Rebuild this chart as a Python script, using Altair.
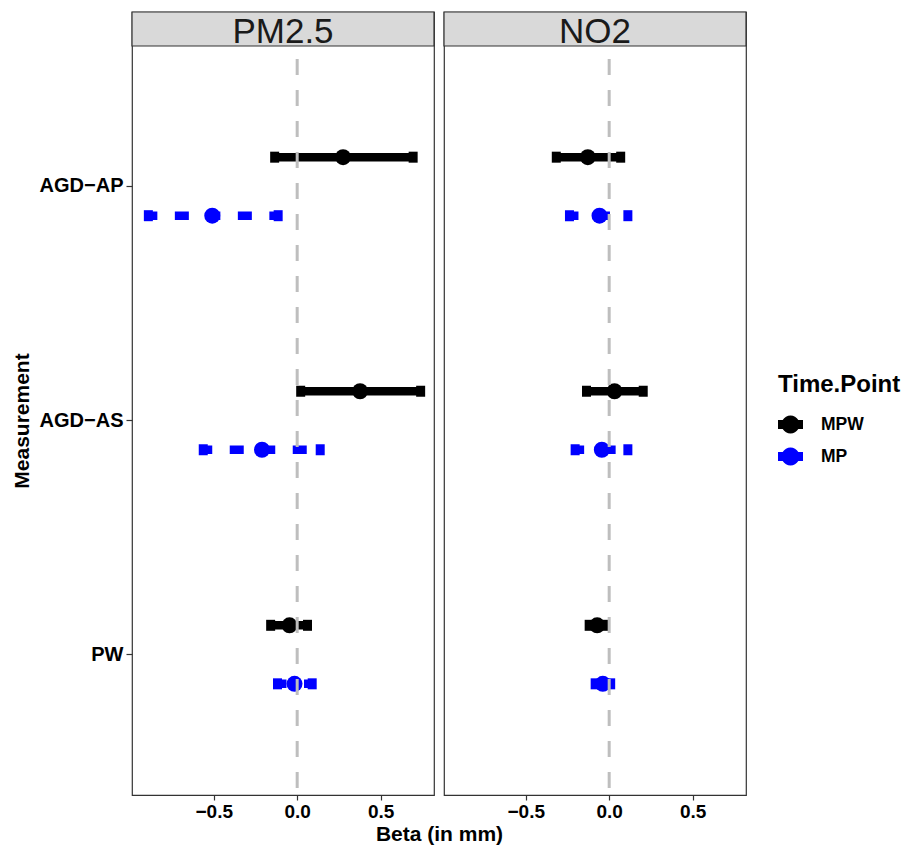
import math
import altair as alt
import pandas as pd

# ---- data ----
pollutant = ["PM2.5"] * 6 + ["NO2"] * 6
measurement = ["AGD-AP", "AGD-AP", "AGD-AS", "AGD-AS", "PW", "PW"] * 2
time_point = ["MPW", "MP"] * 6
beta = [0.275, -0.509, 0.377, -0.211, -0.046, -0.016,
        -0.128, -0.058, 0.032, -0.044, -0.072, -0.038]
lower = [-0.135, -0.892, 0.021, -0.563, -0.159, -0.118,
         -0.317, -0.238, -0.136, -0.204, -0.120, -0.084]
upper = [0.695, -0.114, 0.740, 0.138, 0.062, 0.090,
         0.069, 0.112, 0.204, 0.112, -0.033, 0.009]

panels = ["PM2.5", "NO2"]
meas_domain = ["AGD-AP", "AGD-AS", "PW"]
tp_domain = ["MPW", "MP"]
tp_colors = ["#000000", "#0000FF"]
x_ticks = [-0.5, 0.0, 0.5]
x_domain = [-0.99, 0.82]
ref_line = [0.0]

df = pd.DataFrame(dict(Pollutant=pollutant, Measurement=measurement,
                       TimePoint=time_point, Beta=beta, Lower=lower, Upper=upper))
ref_df = pd.DataFrame({"ref": ref_line})

FONT = "Liberation Sans"
PW_, PH, SH = 302, 749, 34
TOT_H = PH + SH

# legend glyph: a dot on a short thick bar (polygon approximation of the circle)
circ = " ".join(
    ("M" if i == 0 else "L") + f"{0.72 * math.cos(2 * math.pi * i / 24):.3f},"
    f"{0.72 * math.sin(2 * math.pi * i / 24):.3f}" for i in range(24)
) + " Z"
sym_path = "M-1,-0.36 L1,-0.36 L1,0.36 L-1,0.36 Z " + circ

legend = alt.Legend(
    title="Time.Point", orient="none", legendX=646, legendY=361, padding=0,
    symbolType=sym_path, symbolSize=625, symbolStrokeWidth=0, symbolOpacity=1,
    titleFont=FONT, titleFontSize=24, titleFontWeight="bold", titleColor="black",
    labelFont=FONT, labelFontSize=17.5, labelFontWeight="bold", labelColor="black",
    labelOffset=18, rowPadding=10, titlePadding=15,
)

fill_scale = alt.Scale(domain=tp_domain, range=tp_colors)


def make_panel(name, show_y):
    d = df[df.Pollutant == name]
    base = alt.Chart(d)
    if show_y:
        yaxis = alt.Axis(
            title="Measurement", labelExpr="replace(datum.label, '-', '\u2212')",
            labelFont=FONT, labelFontSize=20, labelFontWeight="bold", labelColor="black",
            tickColor="#333333", tickSize=6, tickWidth=1.2, labelPadding=3,
            domain=False, grid=False,
            titleFont=FONT, titleFontSize=21, titleFontWeight="bold", titleColor="black",
            titlePadding=7,
        )
    else:
        yaxis = None
    xaxis_kw = dict(
        values=x_ticks, format=".1f", labelFont=FONT, labelFontSize=19,
        labelFontWeight="bold", labelColor="black", tickColor="#333333",
        tickSize=5, tickWidth=1.2, labelPadding=2, domain=False, grid=False,
        titleFont=FONT, titleFontSize=21, titleFontWeight="bold", titleColor="black",
        titlePadding=2,
    )
    if show_y:
        xaxis = alt.Axis(title="Beta (in mm)", titleX=307, **xaxis_kw)
    else:
        xaxis = alt.Axis(title=None, **xaxis_kw)
    x_scale = alt.Scale(domain=x_domain, nice=False, zero=False)
    y = alt.Y("Measurement:N",
              scale=alt.Scale(type="band", domain=meas_domain, paddingInner=0,
                              paddingOuter=0.1, range=[SH, TOT_H]),
              axis=yaxis)
    yoff = alt.YOffset("TimePoint:N",
                       scale=alt.Scale(domain=tp_domain, paddingInner=0, paddingOuter=1))
    fill = alt.Fill("TimePoint:N", scale=fill_scale, legend=legend)

    rules = base.mark_rule(strokeWidth=8.5, strokeCap="butt", strokeDashOffset=5).encode(
        x=alt.X("Lower:Q", scale=x_scale, axis=xaxis), x2="Upper:Q", y=y, yOffset=yoff,
        stroke=alt.Stroke("TimePoint:N", scale=alt.Scale(domain=tp_domain, range=tp_colors),
                          legend=None),
        strokeDash=alt.StrokeDash("TimePoint:N",
                                  scale=alt.Scale(domain=tp_domain, range=[[1, 0], [14, 17.5]]),
                                  legend=None),
    )
    cap_lo = base.mark_tick(size=11, thickness=9, orient="vertical", opacity=1).encode(
        x=alt.X("Lower:Q", scale=x_scale, axis=xaxis), y=y, yOffset=yoff, fill=fill)
    cap_hi = base.mark_tick(size=11, thickness=9, orient="vertical", opacity=1).encode(
        x=alt.X("Upper:Q", scale=x_scale, axis=xaxis), y=y, yOffset=yoff, fill=fill)
    pts = base.mark_circle(size=255, opacity=1).encode(
        x=alt.X("Beta:Q", scale=x_scale, axis=xaxis), y=y, yOffset=yoff, fill=fill)
    zero = alt.Chart(ref_df).mark_rule(color="#BEBEBE", strokeWidth=3,
                                       strokeDash=[16, 15], strokeDashOffset=18).encode(
        x=alt.X("ref:Q", scale=x_scale, axis=xaxis),
        y=alt.value(SH), y2=alt.value(TOT_H))

    lab_df = pd.DataFrame({"label": [name]})
    strip_bg = alt.Chart(lab_df).mark_rect(
        fill="#D9D9D9", stroke="#333333", strokeWidth=1.2
    ).encode(x=alt.value(0), x2=alt.value(PW_), y=alt.value(0), y2=alt.value(SH))
    strip_txt = alt.Chart(lab_df).mark_text(
        font=FONT, fontSize=35, color="#1A1A1A", align="center", baseline="alphabetic"
    ).encode(text="label:N", x=alt.value(PW_ / 2), y=alt.value(31))

    return alt.layer(pts, cap_lo, cap_hi, rules, strip_bg, strip_txt, zero).properties(
        width=PW_, height=TOT_H)


chart = alt.hconcat(
    make_panel("PM2.5", True), make_panel("NO2", False), spacing=10, bounds="flush"
).properties(
    padding={"left": 2, "top": 2, "right": 0, "bottom": 0}
).configure_view(stroke="#333333", strokeWidth=1.2)

chart.save("out.html", embed_options={"renderer": "svg", "actions": False})
